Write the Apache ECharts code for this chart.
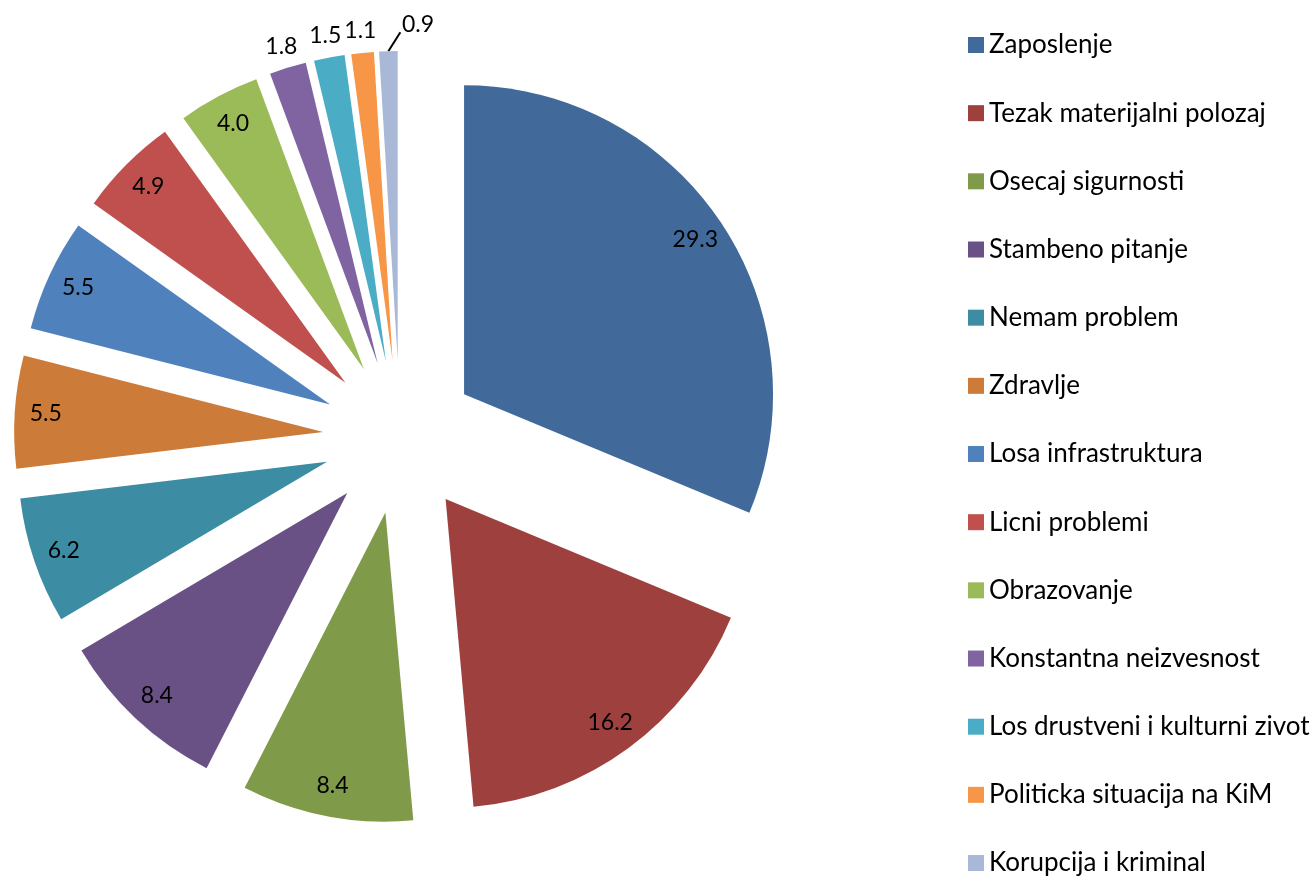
<!DOCTYPE html>
<html>
<head>
<meta charset="utf-8">
<script src="https://cdn.jsdelivr.net/npm/echarts@6/dist/echarts.min.js"></script>
<style>html,body{margin:0;padding:0;background:#fff;}#c{width:1311px;height:878px;}</style>
</head>
<body>
<div id="c"></div>
<script>
const categories = ['Zaposlenje','Tezak materijalni polozaj','Osecaj sigurnosti','Stambeno pitanje','Nemam problem','Zdravlje','Losa infrastruktura','Licni problemi','Obrazovanje','Konstantna neizvesnost','Los drustveni i kulturni zivot','Politicka situacija na KiM','Korupcija i kriminal'];
const values = [29.3, 16.2, 8.4, 8.4, 6.2, 5.5, 5.5, 4.9, 4.0, 1.8, 1.5, 1.1, 0.9];
const colors = ['#416A9B','#9E413E','#7F9A48','#695185','#3C8DA3','#CC7B38','#4F81BD','#C0504D','#9BBB59','#8064A2','#4BACC6','#F79646','#A9B8D7'];
const insideLabelIdx = [0,1,2,3,4,5,6,7,8];
const outsideLabelIdx = [9,10,11];
const leaderLabelIdx = [12];

const FONT = 'Lato';
const center = [400, 437];
const R = 309;
const OFFSET = 77;
const fmt = p => Number(p.value).toFixed(1);

const common = {
  type: 'pie', center: center, startAngle: 90, clockwise: true,
  selectedMode: 'multiple', selectedOffset: OFFSET, animation: false,
  emphasis: { disabled: true, scale: false },
  avoidLabelOverlap: false
};
const labelStyle = { color: '#000', fontSize: 23, fontFamily: FONT, formatter: fmt };

const mainData = categories.map((n, i) => {
  const isOut = outsideLabelIdx.indexOf(i) >= 0;
  const isLead = leaderLabelIdx.indexOf(i) >= 0;
  return {
    name: n, value: values[i], selected: true,
    itemStyle: { color: colors[i], borderWidth: 0 },
    label: { show: isOut || isLead },
    labelLine: isLead ? { show: true, length: 14, length2: 0 } : { show: false, length: 22, length2: 0 }
  };
});
const innerData = categories.map((n, i) => ({
  name: n, value: values[i], selected: true,
  itemStyle: { color: 'rgba(0,0,0,0)', borderWidth: 0 },
  label: { show: insideLabelIdx.indexOf(i) >= 0 }
}));

const chart = echarts.init(document.getElementById('c'), null, { renderer: 'canvas' });
chart.setOption({
  backgroundColor: '#fff',
  legend: {
    orient: 'vertical', left: 968, top: 32, padding: 0, height: 846, icon: 'rect',
    itemWidth: 16, itemHeight: 16, itemGap: 42.17,
    textStyle: { fontSize: 26, lineHeight: 26, color: '#000', fontFamily: FONT },
    data: categories, selectedMode: false
  },
  series: [
    Object.assign({}, common, {
      name: 'main', radius: [0, R], z: 2,
      data: mainData,
      label: Object.assign({ position: 'outside', alignTo: 'none', distanceToLabelLine: 0 }, labelStyle),
      labelLine: { show: true, smooth: false, lineStyle: { color: '#000', width: 2 } },
      labelLayout: function (p) {
        if (leaderLabelIdx.indexOf(p.dataIndex) >= 0 && p.labelLinePoints) {
          const s = p.labelLinePoints[0];
          return {
            align: 'left', dx: 14, dy: -13,
            labelLinePoints: [[s[0], s[1]], [s[0] + 12, s[1] - 19]]
          };
        }
        return { align: 'center' };
      }
    }),
    Object.assign({}, common, {
      name: 'inLabels', radius: [241, R], z: 3, silent: true,
      data: innerData,
      label: Object.assign({ position: 'inside' }, labelStyle),
      labelLine: { show: false }
    })
  ]
});
</script>
</body>
</html>
